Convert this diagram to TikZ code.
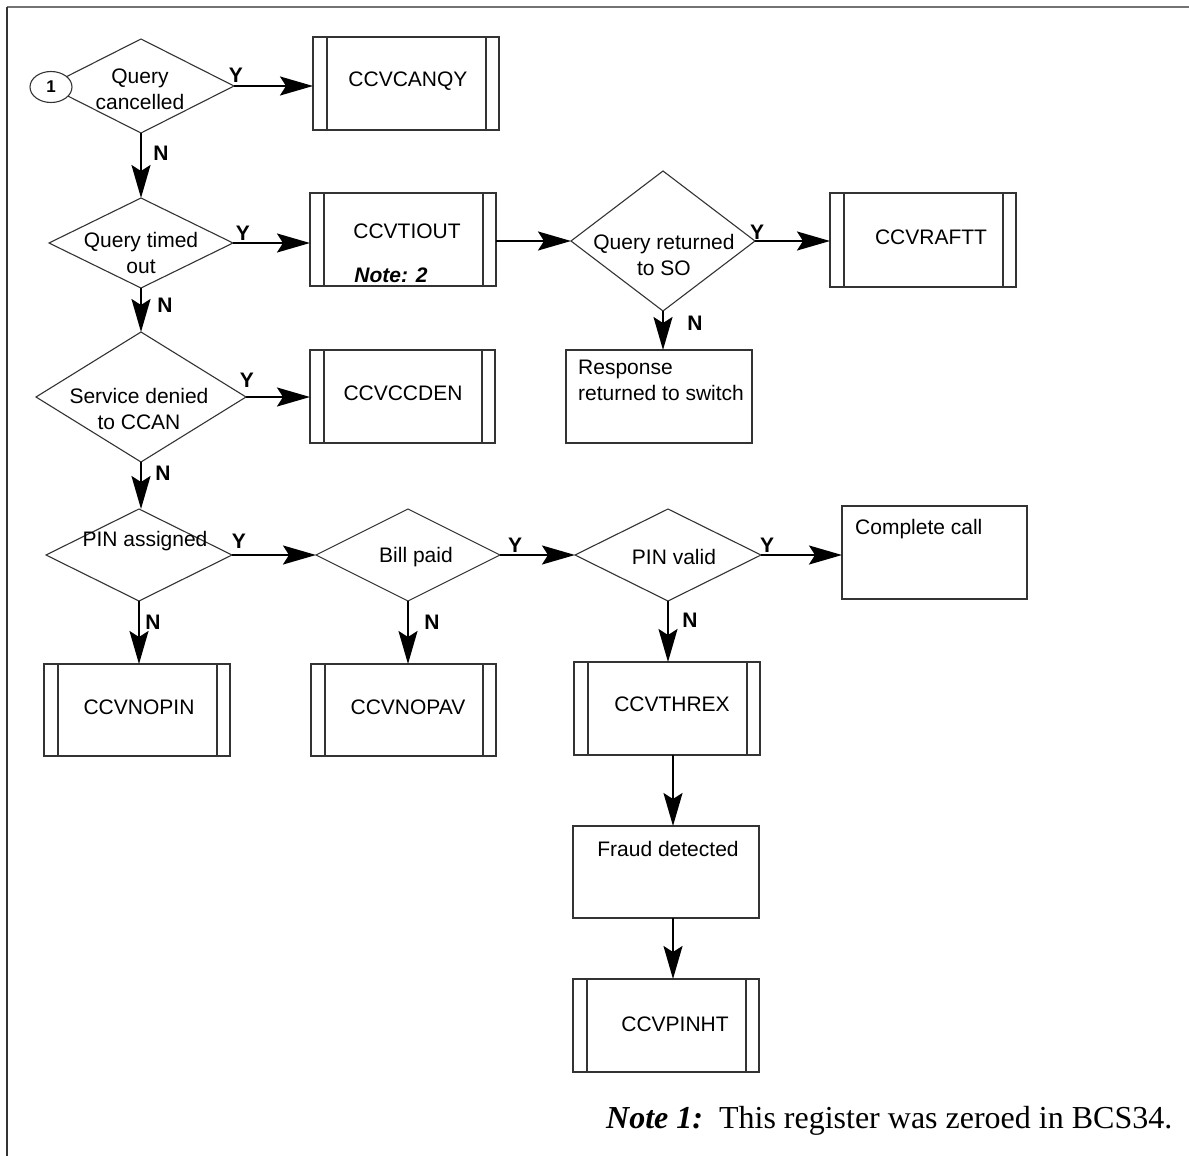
\documentclass[tikz,border=0pt]{standalone}
\usepackage{fontspec}
\setmainfont{Liberation Sans}
\newfontfamily\notefont{Liberation Serif}
\usetikzlibrary{shapes.geometric,arrows.meta,calc}
\begin{document}
\begin{tikzpicture}[x=1pt,y=-1pt,
  shp/.style={draw=black!80, line width=1.1pt},
  dia/.style={shp, shape=diamond, inner sep=0pt, outer sep=0pt},
  box/.style={shp, rectangle, minimum width=186pt, minimum height=93pt, inner sep=0pt, outer sep=0pt},
  proc/.style={box, path picture={
     \draw[black!80, line width=1.1pt] ([xshift=14pt]path picture bounding box.north west) -- ([xshift=14pt]path picture bounding box.south west);
     \draw[black!80, line width=1.1pt] ([xshift=-13pt]path picture bounding box.north east) -- ([xshift=-13pt]path picture bounding box.south east);}},
  txt/.style={inner sep=0pt, font=\fontsize{21}{26}\selectfont, align=center},
  yn/.style={inner sep=0pt, font=\fontsize{21}{26}\selectfont\bfseries},
  arr/.style={line width=2pt, -{Stealth[length=33pt, width=19pt, inset=6pt]}},
]
\useasboundingbox (0,0) rectangle (1189,1156);
\fill[white] (0,0) rectangle (1189,1156);
% frame
\draw[black!55, line width=2pt] (7,7) -- (1189,7);
\draw[black!80, line width=2pt] (7,7) -- (7,1156);

% diamonds
\node[dia, minimum width=186pt, minimum height=94pt] (d1) at (141,86) {};
\node[dia, minimum width=184pt, minimum height=90pt] (d2) at (141,243) {};
\node[dia, minimum width=184pt, minimum height=140pt] (d3) at (663,241) {};
\node[dia, minimum width=210pt, minimum height=130pt] (d4) at (141,397) {};
\node[dia, minimum width=186pt, minimum height=92pt] (d5) at (139,555) {};
\node[dia, minimum width=184pt, minimum height=92pt] (d6) at (408,555) {};
\node[dia, minimum width=186pt, minimum height=92pt] (d7) at (668,555) {};

% connector circle
\node[draw=black!80, line width=1.1pt, fill=white, ellipse, minimum width=42pt, minimum height=31pt, inner sep=0pt, font=\fontsize{17}{20}\selectfont\bfseries] (c1) at (51,87) {1};

% boxes
\node[proc] (canqy) at (406,83.5) {};
\node[proc] (tiout) at (403,239.5) {};
\node[proc, minimum height=94pt] (raftt) at (923,240) {};
\node[box] (resp) at (659,396.5) {};
\node[proc, minimum width=185pt] (ccden) at (402.5,396.5) {};
\node[box, minimum width=185pt] (comp) at (934.5,552.5) {};
\node[proc, minimum height=92pt] (nopin) at (137,710) {};
\node[proc, minimum width=185pt, minimum height=92pt] (nopav) at (403.5,710) {};
\node[proc] (threx) at (667,708.5) {};
\node[box, minimum height=92pt] (fraud) at (666,872) {};
\node[proc] (pinht) at (666,1025.5) {};

% texts
\node[txt] (d1t) at (140,89) {Query\\cancelled};
\node[txt] (d2t) at (141,253) {Query timed\\out};
\node[txt] (d3t) at (664,255) {Query returned\\to SO};
\node[txt] (d4t) at (139,409) {Service denied\\to CCAN};
\node[txt] (d5t) at (145,541) {PIN assigned};
\node[txt] (d6t) at (416,557) {Bill paid};
\node[txt] (d7t) at (674,557) {PIN valid};
\node[txt] (canqyt) at (408,81) {CCVCANQY};
\node[txt] (tioutt) at (407,231) {CCVTIOUT};
\node[txt] (note2) at (391,275) {\textbf{\textit{Note: 2}}};
\node[txt] (rafttt) at (931,237) {CCVRAFTT};
\node[txt, anchor=west, align=left] (respt) at (578,380) {Response\\returned to switch};
\node[txt] (ccdent) at (403,393) {CCVCCDEN};
\node[txt, anchor=west] (compt) at (855,529) {Complete call};
\node[txt] (nopint) at (139,707) {CCVNOPIN};
\node[txt] (nopavt) at (408,707) {CCVNOPAV};
\node[txt] (thrext) at (672,704) {CCVTHREX};
\node[txt] (fraudt) at (668,849) {Fraud detected};
\node[txt] (pinhtt) at (675,1024) {CCVPINHT};

% Y / N labels
\node[yn] (y1) at (236,75) {Y};
\node[yn] (n1) at (161,153) {N};
\node[yn] (y2) at (243,233) {Y};
\node[yn] (n2) at (165,305) {N};
\node[yn] (y3) at (757,232) {Y};
\node[yn] (n3) at (695,323) {N};
\node[yn] (y4) at (247,380) {Y};
\node[yn] (n4) at (163,473) {N};
\node[yn] (y5) at (239,541) {Y};
\node[yn] (n5) at (153,622) {N};
\node[yn] (y6) at (515,545) {Y};
\node[yn] (n6) at (432,622) {N};
\node[yn] (y7) at (767,545) {Y};
\node[yn] (n7) at (690,620) {N};

% connectors
\draw[arr] (d1.east) -- (d1.east -| canqy.west);
\draw[arr] (d1.south) -- (d1.south |- d2.north);
\draw[arr] (d2.east) -- (d2.east -| tiout.west);
\draw[arr] (tiout.east |- d3.west) -- (d3.west);
\draw[arr] (d3.east) -- (d3.east -| raftt.west);
\draw[arr] (d3.south) -- (d3.south |- resp.north);
\draw[arr] (d2.south) -- (d2.south |- d4.north);
\draw[arr] (d4.east) -- (d4.east -| ccden.west);
\draw[arr] (d4.south) -- (d4.south |- d5.north);
\draw[arr] (d5.east) -- (d6.west);
\draw[arr] (d6.east) -- (d7.west);
\draw[arr] (d7.east) -- (d7.east -| comp.west);
\draw[arr] (d5.south) -- (d5.south |- nopin.north);
\draw[arr] (d6.south) -- (d6.south |- nopav.north);
\draw[arr] (d7.south) -- (d7.south |- threx.north);
\draw[arr] ([xshift=6pt]threx.south) -- ([xshift=7pt]fraud.north);
\draw[arr] ([xshift=7pt]fraud.south) -- ([xshift=7pt]pinht.north);

% note
\node[inner sep=0pt, anchor=base west, font=\notefont\fontsize{32}{38}\selectfont] (note1) at (606,1128) {\textbf{\textit{Note 1:}}\ \ This register was zeroed in BCS34.};
\end{tikzpicture}
\end{document}
